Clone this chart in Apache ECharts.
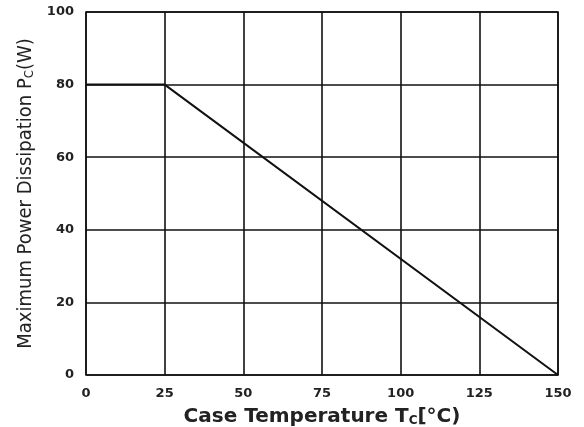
<!DOCTYPE html>
<html><head><meta charset="utf-8">
<script src="https://cdn.jsdelivr.net/npm/echarts@6/dist/echarts.min.js"></script>
<style>html,body{margin:0;padding:0;background:#fff}#c{width:584px;height:427px}</style>
</head><body><div id="c"></div>
<script>
const temps = [0, 25, 150];
const power = [80, 80, 0];
const xTicks = [0, 25, 50, 75, 100, 125, 150];
const yTicks = [0, 20, 40, 60, 80, 100];

const chart = echarts.init(document.getElementById('c'), null, {renderer: 'canvas'});
chart.setOption({
  animation: false,
  backgroundColor: '#fff',
  grid: {left: 86, right: 26, top: 12, bottom: 52, outerBoundsMode: 'none', containLabel: false,
         show: true, borderColor: '#111', borderWidth: 1.5, backgroundColor: 'transparent'},
  xAxis: {
    type: 'value', min: 0, max: 150, interval: 25,
    axisLine: {show: false}, axisTick: {show: false},
    splitLine: {show: true, lineStyle: {color: '#111', width: 1.6}},
    axisLabel: {color: '#222', fontFamily: 'DejaVu Sans', fontWeight: 'bold', fontSize: 13, margin: 12},
    name: '{a|Case Temperature T}{s|C}{a|[°C)}', nameLocation: 'middle', nameGap: 32,
    nameTextStyle: {rich: {
      a: {fontFamily: 'DejaVu Sans', fontSize: 20, color: '#222', fontWeight: 'bold'},
      s: {fontFamily: 'DejaVu Sans', fontSize: 12, color: '#222', fontWeight: 'bold', padding: [8,0,0,0]}
    }}
  },
  yAxis: {
    type: 'value', min: 0, max: 100, interval: 20,
    axisLine: {show: false}, axisTick: {show: false},
    splitLine: {show: true, lineStyle: {color: '#111', width: 1.6}},
    axisLabel: {color: '#222', fontFamily: 'DejaVu Sans', fontWeight: 'bold', fontSize: 13, margin: 12},
    name: '{a|Maximum Power Dissipation P}{s|C}{a|(W)}', nameLocation: 'middle', nameGap: 47,
    nameTextStyle: {rich: {
      a: {fontFamily: 'DejaVu Sans Condensed, Liberation Sans', fontSize: 20, color: '#222'},
      s: {fontFamily: 'DejaVu Sans Condensed, Liberation Sans', fontSize: 13, color: '#222', padding: [7,0,0,0]}
    }}
  },
  series: [{
    type: 'line', data: temps.map((t, i) => [t, power[i]]),
    symbol: 'none', lineStyle: {color: '#111', width: 2}
  }]
});
</script></body></html>
